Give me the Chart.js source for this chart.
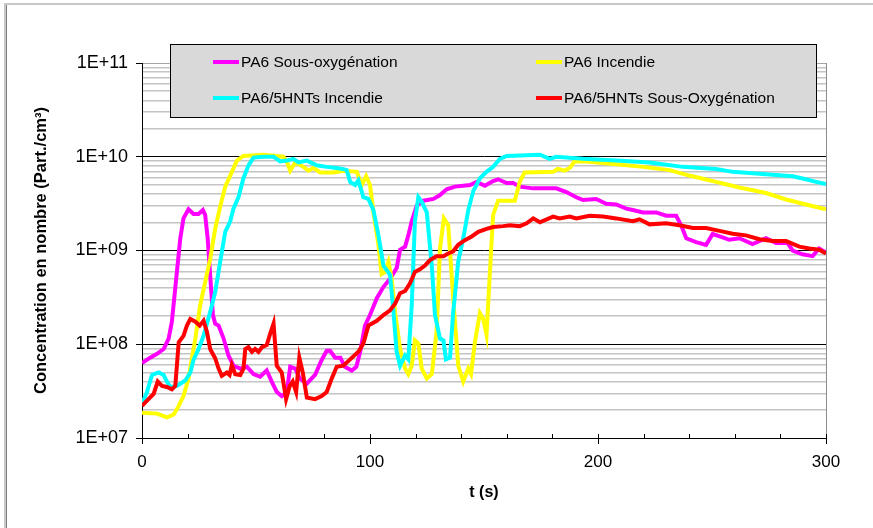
<!DOCTYPE html>
<html>
<head>
<meta charset="utf-8">
<script src="https://cdn.jsdelivr.net/npm/chart.js@4.4.1/dist/chart.umd.min.js"></script>
<style>
  html, body { margin: 0; padding: 0; background: #fff; }
  #wrap { width: 873px; height: 528px; position: relative; }
</style>
</head>
<body>
<div id="wrap"><canvas id="concChart" width="873" height="528"></canvas></div>
<script>
// series labels & colours
var seriesNames = ["PA6 Sous-oxygénation", "PA6 Incendie", "PA6/5HNTs Incendie", "PA6/5HNTs Sous-Oxygénation"];
var seriesColors = ["#FF00FF", "#FFFF00", "#00FFFF", "#FF0000"];

// PA6 Sous-oxygénation
var magentaT = [0, 3.6, 6.6, 9.5, 11.7, 13.1, 15.3, 16.8, 18.2, 20.4, 22.6, 24.8, 26.7, 27.7, 28.8, 30, 31.1, 32.1, 33.6, 35.8, 37.9, 40.1, 43.1, 46, 48.9, 51.8, 54.7, 56.9, 59.1, 61.3, 63.5, 65, 67.2, 69.3, 72.3, 75.9, 78.8, 81, 82.5, 84.7, 87, 89, 92, 94, 95.7, 97.8, 100, 103, 105.9, 108.8, 111.7, 113.2, 115.4, 116.8, 118.3, 120.5, 123.4, 127.8, 130.7, 133.6, 137.3, 140.9, 143.8, 146.8, 150.4, 154, 156.2, 159.9, 162.8, 165.7, 171.5, 181.7, 186.1, 190.5, 193.4, 199.2, 203.6, 208, 212.4, 215.3, 219.7, 225.5, 229.9, 234.3, 236.5, 238.7, 243, 247.4, 250.3, 254, 257.6, 262, 267.8, 273.7, 278.1, 283.2, 285.4, 289.7, 294.1, 297, 300];
var magentaV = [6.3e7, 7.2e7, 7.9e7, 8.9e7, 1.15e8, 1.74e8, 5.9e8, 1.35e9, 2.2e9, 2.75e9, 2.45e9, 2.45e9, 2.7e9, 2.4e9, 1.35e9, 5.0e8, 2.05e8, 1.66e8, 1.58e8, 1.15e8, 7.6e7, 5.9e7, 5.5e7, 5.75e7, 4.8e7, 4.5e7, 5.25e7, 4.0e7, 3.1e7, 2.8e7, 3.1e7, 5.75e7, 5.5e7, 4.3e7, 3.8e7, 4.7e7, 6.8e7, 8.5e7, 8.5e7, 7.2e7, 7.2e7, 5.75e7, 5.25e7, 5.75e7, 8.3e7, 1.58e8, 2.05e8, 3.1e8, 4.1e8, 5.0e8, 6.5e8, 1.02e9, 1.1e9, 1.45e9, 2.05e9, 3.0e9, 3.4e9, 3.55e9, 3.9e9, 4.5e9, 4.8e9, 4.9e9, 5.0e9, 5.4e9, 4.9e9, 5.5e9, 5.75e9, 5.25e9, 5.25e9, 4.8e9, 4.6e9, 4.6e9, 4.2e9, 3.7e9, 3.45e9, 3.55e9, 3.15e9, 3.1e9, 2.8e9, 2.7e9, 2.55e9, 2.55e9, 2.35e9, 2.35e9, 1.85e9, 1.35e9, 1.23e9, 1.15e9, 1.5e9, 1.4e9, 1.3e9, 1.35e9, 1.17e9, 1.35e9, 1.2e9, 1.2e9, 1.0e9, 9.1e8, 8.7e8, 1.05e9, 9.5e8];

// PA6 Incendie
var yellowT = [0, 6.6, 10.9, 13.9, 16.1, 18.2, 20.4, 21.9, 23.4, 25.5, 27.7, 29.9, 32.1, 34.3, 36.5, 38.7, 41.6, 44.5, 53.3, 62, 63.5, 65, 67.2, 70.8, 73, 75.2, 78.1, 84, 88.3, 94.2, 96.4, 98.3, 100, 101.5, 103.7, 105.1, 106.6, 108.1, 109.5, 111, 113.2, 115.4, 116.8, 118.3, 119.7, 121.2, 122.7, 124.9, 127.1, 129.2, 130.7, 132.4, 134.3, 136.5, 138.7, 140.9, 143.1, 144.3, 146, 148.2, 149.7, 151.1, 152.6, 154, 156.2, 163.5, 165.7, 167.8, 180.3, 182.4, 185.4, 187.6, 189.7, 194.9, 208, 219.7, 231.4, 240.1, 251.8, 262, 273.7, 282.5, 291.2, 300];
var yellowV = [1.86e7, 1.82e7, 1.66e7, 1.78e7, 2.2e7, 2.8e7, 4.3e7, 7.1e7, 1.15e8, 2.6e8, 4.6e8, 8.1e8, 1.7e9, 2.95e9, 4.8e9, 6.3e9, 9.1e9, 1.02e10, 1.05e10, 1.0e10, 8.9e9, 7.1e9, 8.7e9, 7.8e9, 7.1e9, 7.6e9, 6.8e9, 6.8e9, 7.1e9, 6.9e9, 5.0e9, 6.2e9, 5.0e9, 2.55e9, 1.15e9, 5.6e8, 5.9e8, 7.6e8, 5.0e8, 2.2e8, 8.9e7, 5.5e7, 4.8e7, 5.9e7, 1.1e8, 1.02e8, 5.5e7, 4.3e7, 4.8e7, 1.35e8, 1.05e9, 2.2e9, 1.85e9, 3.1e8, 5.9e7, 4.0e7, 5.5e7, 4.8e7, 1.05e8, 2.15e8, 1.85e8, 1.26e8, 5.9e8, 2.4e9, 3.4e9, 3.4e9, 5.4e9, 6.8e9, 6.9e9, 7.4e9, 7.1e9, 7.6e9, 8.9e9, 8.9e9, 8.3e9, 7.8e9, 7.2e9, 6.3e9, 5.4e9, 4.7e9, 4.1e9, 3.5e9, 3.1e9, 2.75e9];

// PA6/5HNTs Incendie
var cyanT = [0, 2.2, 4.4, 7.3, 9.5, 10.9, 12.4, 15.3, 19, 21.2, 22.6, 24.8, 27, 29.9, 32.1, 34.3, 36.5, 38.7, 40.1, 42.3, 44.5, 46.7, 48.9, 53.3, 57.7, 60.6, 63.5, 66.4, 68.6, 72.3, 76.6, 81, 85.4, 88, 89.8, 91.3, 93.5, 94.9, 97.1, 99.3, 101.5, 103.7, 105.9, 107.3, 108.8, 110.3, 111.7, 113.2, 115.4, 116.8, 118.3, 119.7, 121.2, 122.7, 124.9, 127.1, 128.5, 130.7, 132.2, 133.3, 135.1, 136.5, 138.7, 140.9, 143.1, 145.3, 148.2, 151.1, 154, 157, 159.9, 174.5, 178.8, 181.7, 193.4, 208, 222.6, 237.2, 251.8, 259.1, 273.7, 285.4, 291.2, 295.6, 300];
var cyanV = [2.3e7, 3.1e7, 4.7e7, 5.0e7, 4.7e7, 4.0e7, 3.5e7, 3.6e7, 4.1e7, 5.0e7, 6.8e7, 8.9e7, 1.23e8, 2.2e8, 3.6e8, 7.6e8, 1.58e9, 2.05e9, 2.8e9, 3.7e9, 5.9e9, 8.1e9, 9.8e9, 1.0e10, 1.0e10, 8.9e9, 9.1e9, 9.5e9, 8.7e9, 9.1e9, 8.1e9, 7.8e9, 7.6e9, 7.4e9, 7.2e9, 5.4e9, 5.0e9, 5.6e9, 3.7e9, 3.55e9, 2.7e9, 1.45e9, 6.9e8, 6.2e8, 5.5e8, 2.2e8, 8.3e7, 5.9e7, 7.6e7, 6.9e7, 2.6e8, 2.05e9, 3.7e9, 3.3e9, 2.55e9, 6.9e8, 2.05e8, 1.15e8, 1.1e8, 6.9e7, 7.2e7, 2.2e8, 7.6e8, 1.35e9, 2.7e9, 4.3e9, 5.9e9, 6.9e9, 7.8e9, 9.5e9, 1.02e10, 1.05e10, 9.5e9, 1.0e10, 9.5e9, 9.1e9, 8.7e9, 7.8e9, 7.4e9, 6.9e9, 6.5e9, 6.2e9, 5.75e9, 5.4e9, 5.1e9];

// PA6/5HNTs Sous-Oxygénation
var redT = [0, 2.2, 5.1, 6.9, 8.8, 10.9, 13.1, 14.6, 16.1, 18.2, 19.7, 21.2, 23.4, 25.3, 27, 28.5, 29.9, 32.1, 33.6, 35, 37.2, 38.4, 39.4, 40.9, 43.1, 44.5, 45.3, 46.7, 48.2, 49.6, 51.1, 52.6, 54.7, 56.2, 57.7, 59.1, 61.3, 63.2, 64.8, 66.1, 67.6, 69, 70.5, 72.3, 75.9, 78.8, 81, 83.2, 85.4, 88.3, 91.3, 94.9, 97.1, 99.3, 103, 105.9, 108.8, 111, 113.2, 115.4, 117.6, 119.7, 121.9, 124.1, 126.3, 129.2, 132.2, 134.3, 136.5, 138.7, 141.6, 144.6, 147.5, 151.1, 154, 158.4, 161.4, 165.7, 168.7, 171.6, 174.5, 180.3, 183.2, 187.6, 190.5, 196.3, 202.2, 208, 215.3, 218.2, 222.6, 229.9, 235.7, 241.6, 247.4, 253.3, 259.1, 264.9, 270.8, 276.6, 282.5, 288.3, 292.7, 297, 300];
var redV = [2.2e7, 2.5e7, 2.95e7, 4.0e7, 3.6e7, 3.5e7, 3.3e7, 3.6e7, 1.05e8, 1.23e8, 1.58e8, 1.86e8, 1.74e8, 1.58e8, 1.78e8, 1.35e8, 8.9e7, 7.1e7, 5.5e7, 4.6e7, 5.0e7, 4.7e7, 6.0e7, 4.8e7, 4.7e7, 5.5e7, 8.9e7, 9.3e7, 8.3e7, 8.9e7, 8.3e7, 9.3e7, 9.8e7, 1.29e8, 1.66e8, 5.9e7, 5.0e7, 2.6e7, 3.6e7, 4.0e7, 3.1e7, 7.2e7, 5.0e7, 2.7e7, 2.6e7, 2.8e7, 3.1e7, 4.3e7, 5.75e7, 5.9e7, 6.9e7, 8.3e7, 1.02e8, 1.58e8, 1.78e8, 2.05e8, 2.3e8, 2.7e8, 3.5e8, 3.7e8, 4.5e8, 5.9e8, 6.3e8, 6.9e8, 7.9e8, 8.7e8, 8.7e8, 9.3e8, 9.8e8, 1.15e9, 1.29e9, 1.41e9, 1.58e9, 1.7e9, 1.78e9, 1.82e9, 1.86e9, 1.82e9, 1.95e9, 2.2e9, 2.0e9, 2.3e9, 2.2e9, 2.3e9, 2.2e9, 2.35e9, 2.3e9, 2.2e9, 2.05e9, 2.15e9, 1.9e9, 1.95e9, 1.86e9, 1.74e9, 1.74e9, 1.62e9, 1.51e9, 1.45e9, 1.32e9, 1.26e9, 1.26e9, 1.1e9, 1.05e9, 1.02e9, 9.3e8];

// axis ticks
var yTickValues = [1e7, 2e7, 3e7, 4e7, 5e7, 6e7, 7e7, 8e7, 9e7,
                   1e8, 2e8, 3e8, 4e8, 5e8, 6e8, 7e8, 8e8, 9e8,
                   1e9, 2e9, 3e9, 4e9, 5e9, 6e9, 7e9, 8e9, 9e9,
                   1e10, 2e10, 3e10, 4e10, 5e10, 6e10, 7e10, 8e10, 9e10, 1e11];
var yTickLabels = {1e7: "1E+07", 1e8: "1E+08", 1e9: "1E+09", 1e10: "1E+10", 1e11: "1E+11"};
var xTickValues = [0, 20, 40, 60, 80, 100, 120, 140, 160, 180, 200, 220, 240, 260, 280, 300];
var xTickLabels = {0: "0", 100: "100", 200: "200", 300: "300"};

function toPoints(ts, vs) {
  return ts.map(function (t, i) { return { x: t, y: vs[i] }; });
}

var allT = [magentaT, yellowT, cyanT, redT];
var allV = [magentaV, yellowV, cyanV, redV];
var FONT = "'Liberation Sans', Arial, sans-serif";

// frame, plot border, minor x ticks
var framePlugin = {
  id: 'frame',
  beforeDraw: function (chart) {
    var ctx = chart.ctx;
    ctx.save();
    ctx.fillStyle = '#fff';
    ctx.fillRect(0, 0, chart.width, chart.height);
    ctx.fillStyle = '#c8c8c8';
    ctx.fillRect(5, 3, chart.width - 5, 2);
    ctx.fillRect(4, 3, 2, chart.height);
    ctx.fillStyle = '#808080';
    ctx.fillRect(6, 5, 1, chart.height);
    ctx.restore();
  },
  beforeDatasetsDraw: function (chart) {
    var ctx = chart.ctx, a = chart.chartArea;
    ctx.save();
    ctx.strokeStyle = '#8c8c8c';
    ctx.lineWidth = 1;
    ctx.beginPath();
    ctx.moveTo(Math.round(a.right) + 0.5, a.top);
    ctx.lineTo(Math.round(a.right) + 0.5, a.bottom);
    ctx.stroke();
    // small inward ticks on the time axis
    var xs = chart.scales.x;
    ctx.strokeStyle = '#000';
    ctx.beginPath();
    xTickValues.forEach(function (v) {
      var px = Math.round(xs.getPixelForValue(v)) + 0.5;
      ctx.moveTo(px, a.bottom);
      ctx.lineTo(px, a.bottom - 4);
    });
    ctx.stroke();
    ctx.restore();
  },
  afterDraw: function (chart) {
    // legend box as in the original, sitting over the top of the plot
    var ctx = chart.ctx;
    var bx = 170, by = 44, bw = 646, bh = 73;
    ctx.save();
    ctx.fillStyle = '#d9d9d9';
    ctx.fillRect(bx, by, bw, bh);
    ctx.strokeStyle = '#000';
    ctx.lineWidth = 1;
    ctx.strokeRect(bx + 0.5, by + 0.5, bw, bh);
    var cols = [213, 536], rows = [62, 98];
    ctx.font = '15.5px ' + FONT;
    ctx.textBaseline = 'middle';
    ctx.textAlign = 'left';
    chart.data.datasets.forEach(function (ds, i) {
      var cx = cols[i % 2], cy = rows[Math.floor(i / 2)];
      ctx.strokeStyle = ds.borderColor;
      ctx.lineWidth = 4;
      ctx.beginPath();
      ctx.moveTo(cx, cy);
      ctx.lineTo(cx + 26, cy);
      ctx.stroke();
      ctx.fillStyle = '#000';
      ctx.fillText(ds.label, cx + 28, cy + 1);
    });
    ctx.restore();
  }
};

var datasets = seriesNames.map(function (name, i) {
  return {
    label: name,
    data: toPoints(allT[i], allV[i]),
    borderColor: seriesColors[i],
    backgroundColor: seriesColors[i],
    borderWidth: 4,
    pointRadius: 0,
    tension: 0,
    fill: false,
    order: 3 - i
  };
});

new Chart(document.getElementById('concChart'), {
  type: 'line',
  data: { datasets: datasets },
  plugins: [framePlugin],
  options: {
    responsive: false,
    animation: false,
    layout: { padding: { left: 8, top: 63, right: 47, bottom: 0 } },
    plugins: { legend: { display: false }, tooltip: { enabled: false } },
    scales: {
      x: {
        type: 'linear',
        min: 0,
        max: 300,
        afterBuildTicks: function (scale) {
          scale.ticks = xTickValues.map(function (v) { return { value: v }; });
        },
        afterFit: function (scale) { scale.height = 90; },
        ticks: {
          autoSkip: false,
          maxRotation: 0,
          padding: 8,
          color: '#000',
          font: { family: FONT, size: 17 },
          callback: function (v) { return xTickLabels[v] !== undefined ? xTickLabels[v] : ''; }
        },
        grid: {
          drawOnChartArea: false,
          tickLength: 6,
          tickColor: function (c) { return (c.tick && xTickLabels[c.tick.value] !== undefined) ? '#000' : 'rgba(0,0,0,0)'; }
        },
        border: { color: '#000', width: 1 },
        title: {
          display: true,
          text: 't (s)',
          color: '#000',
          font: { family: FONT, size: 16, weight: 'bold' },
          padding: { top: 0, bottom: 26 }
        }
      },
      y: {
        type: 'logarithmic',
        min: 1e7,
        max: 1e11,
        afterBuildTicks: function (scale) {
          scale.ticks = yTickValues.map(function (v) { return { value: v }; });
        },
        afterFit: function (scale) { scale.width = 134; },
        ticks: {
          autoSkip: false,
          padding: 8,
          color: '#000',
          font: { family: FONT, size: 18 },
          callback: function (v) { return yTickLabels[v] !== undefined ? yTickLabels[v] : ''; }
        },
        grid: {
          tickLength: 6,
          color: function (c) {
            var v = c.tick ? c.tick.value : 0;
            if (v === 1e11) return '#a6a6a6';
            return yTickLabels[v] !== undefined ? '#000' : '#c4c4c4';
          },
          lineWidth: function (c) {
            var v = c.tick ? c.tick.value : 0;
            return yTickLabels[v] !== undefined ? 1 : 1.5;
          },
          tickColor: function (c) {
            var v = c.tick ? c.tick.value : 0;
            return yTickLabels[v] !== undefined ? '#000' : 'rgba(0,0,0,0)';
          }
        },
        border: { color: '#000', width: 1 },
        title: {
          display: true,
          text: 'Concentration en nombre (Part./cm³)',
          color: '#000',
          font: { family: FONT, size: 16.5, weight: 'bold' },
          padding: { top: 24, bottom: 0 }
        }
      }
    }
  }
});
</script>
</body>
</html>
